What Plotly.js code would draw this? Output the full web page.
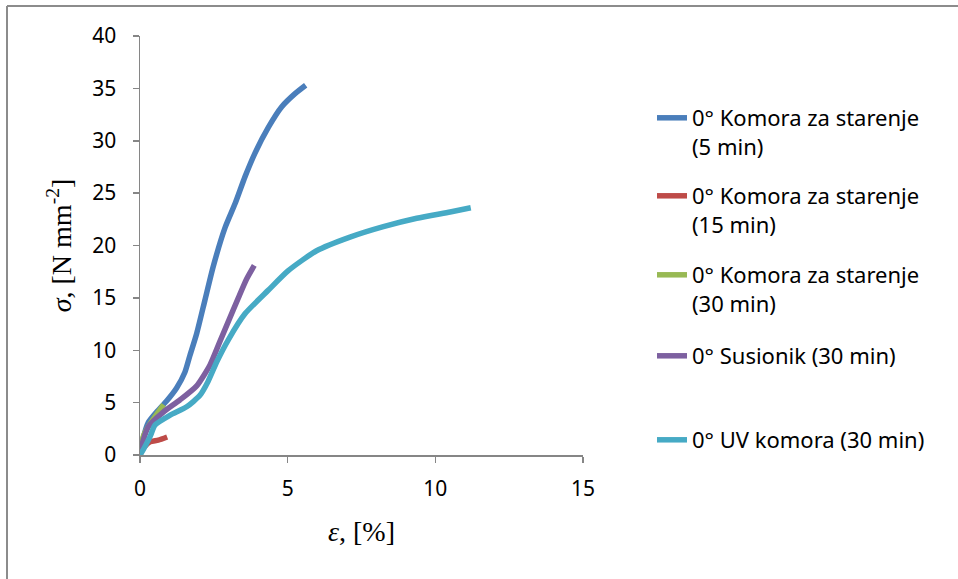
<!DOCTYPE html>
<html>
<head>
<meta charset="utf-8">
<script src="https://cdn.plot.ly/plotly-3.0.1.min.js"></script>
<style>
html,body{margin:0;padding:0;background:#fff;}
#chart{width:958px;height:579px;}
</style>
</head>
<body>
<div id="chart"></div>
<script>
// Strain (%) and stress (N/mm^2)
const seriesNames = [
  "0° Komora za starenje<br>(5 min)",
  "0° Komora za starenje<br>(15 min)",
  "0° Komora za starenje<br>(30 min)",
  "0° Susionik (30 min)",
  "0° UV komora (30 min)"
];
const blueX = [0, 0.1, 0.28, 0.56, 0.9, 1.24, 1.52, 1.69, 1.92, 2.2, 2.48, 2.88, 3.22, 3.56, 3.89, 4.35, 4.8, 5.25, 5.61];
const blueY = [0, 1.5, 3.1, 4.1, 5.15, 6.4, 7.9, 9.5, 11.6, 14.8, 18.0, 21.7, 24.0, 26.6, 28.8, 31.3, 33.25, 34.5, 35.3];
const redX = [0, 0.08, 0.17, 0.34, 0.62, 0.92];
const redY = [0, 0.5, 0.85, 1.27, 1.42, 1.72];
const greenX = [0, 0.05, 0.11, 0.28, 0.51, 0.8];
const greenY = [0, 0.9, 1.75, 2.7, 3.66, 4.8];
const purpleX = [0, 0.1, 0.28, 0.79, 1.35, 1.92, 2.37, 2.7, 3.0, 3.33, 3.61, 3.87];
const purpleY = [0, 1.3, 2.7, 4.1, 5.25, 6.6, 8.6, 10.8, 12.8, 15.0, 16.8, 18.1];
const cyanX = [0, 0.11, 0.34, 0.51, 1.02, 1.58, 2.03, 2.3, 2.6, 2.99, 3.56, 4.35, 5.02, 5.98, 7.11, 8.24, 9.37, 10.5, 11.2];
const cyanY = [0, 0.5, 1.75, 2.86, 3.8, 4.6, 5.7, 7.0, 8.9, 11.0, 13.5, 15.75, 17.6, 19.5, 20.8, 21.8, 22.6, 23.2, 23.6];
const xTicks = [0, 5, 10, 15];
const yTicks = [0, 5, 10, 15, 20, 25, 30, 35, 40];

const colors = ["#4A7EBB", "#BE4B48", "#98B954", "#7D60A0", "#46AAC5"];
const xs = [blueX, redX, greenX, purpleX, cyanX];
const ys = [blueY, redY, greenY, purpleY, cyanY];
const legendIds = ["legend", "legend2", "legend3", "legend4", "legend5"];
const legendTops = [97, 175, 254, 335, 419]; // pixel top of each legend entry

const traces = xs.map((x, i) => ({
  x: x, y: ys[i], type: "scatter", mode: "lines",
  name: seriesNames[i],
  showlegend: true,
  line: {color: colors[i], width: 5.5, shape: "spline", smoothing: 0.6},
  legend: legendIds[i]
}));

const L = 140, R = 583, T = 36, B = 455;
const W = R - L, H = B - T;
const px2x = p => (p - L) / W;
const px2y = p => (B - p) / H;

const legendFont = {family: "Noto Sans, Open Sans, sans-serif", size: 22, color: "#000"};
const axisTitleFont = {family: "Liberation Serif, DejaVu Serif, serif", size: 28, color: "#000"};
const layout = {
  width: 958, height: 579,
  showlegend: true,
  margin: {l: L, r: 958 - R, t: T, b: 579 - B},
  paper_bgcolor: "#fff", plot_bgcolor: "#fff",
  font: {family: "Noto Sans, Open Sans, sans-serif", size: 21, color: "#000"},
  xaxis: {
    range: [0, 15], tickvals: xTicks, ticktext: xTicks.map(String),
    showgrid: false, zeroline: false, showline: true, linecolor: "#868686", linewidth: 1.5,
    ticks: "outside", ticklen: 6, tickcolor: "#868686", tickwidth: 1.5,
    tickfont: {size: 21}, ticklabelstandoff: 8,
    title: {text: "<i>ε</i>, [%]", font: axisTitleFont, standoff: 20}
  },
  yaxis: {
    range: [0, 40], tickvals: yTicks, ticktext: yTicks.map(String),
    showgrid: false, zeroline: false, showline: true, linecolor: "#868686", linewidth: 1.5,
    ticks: "outside", ticklen: 6, tickcolor: "#868686", tickwidth: 1.5,
    tickfont: {size: 21}, ticklabelstandoff: 12,
    title: {text: "<i>σ</i>, [N mm<sup>-2</sup>]", font: axisTitleFont, standoff: 12}
  },
  shapes: [
    {type: "line", xref: "paper", yref: "paper", x0: px2x(7), x1: px2x(958), y0: px2y(6), y1: px2y(6), line: {color: "#8C8C8C", width: 2}},
    {type: "line", xref: "paper", yref: "paper", x0: px2x(7), x1: px2x(7), y0: px2y(6), y1: px2y(579), line: {color: "#8C8C8C", width: 2}}
  ]
};
legendIds.forEach((id, i) => {
  layout[id] = {
    x: px2x(652), y: px2y(legendTops[i]), xanchor: "left", yanchor: "top",
    xref: "paper", yref: "paper", font: legendFont, bgcolor: "rgba(0,0,0,0)",
    valign: "top", itemwidth: 30
  };
});

Plotly.newPlot("chart", traces, layout, {displayModeBar: false, staticPlot: true});
</script>
</body>
</html>
